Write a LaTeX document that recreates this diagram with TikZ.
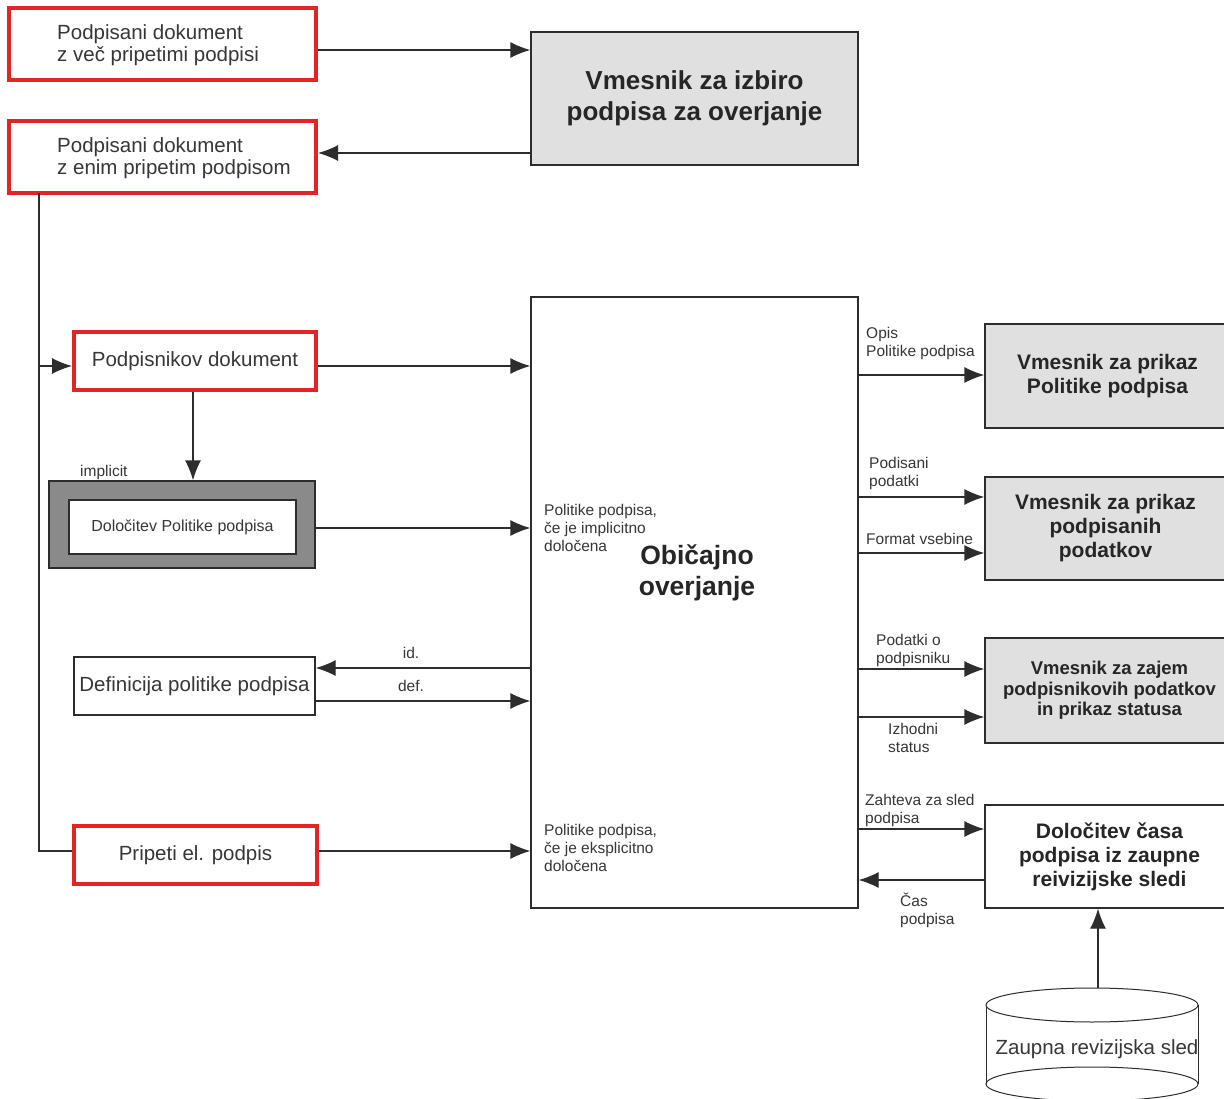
\documentclass[tikz,border=0pt]{standalone}
\usepackage{fontspec}
\setmainfont{Liberation Sans}
\usetikzlibrary{arrows.meta}
\definecolor{redb}{RGB}{226,36,36}
\definecolor{linec}{RGB}{45,45,45}
\definecolor{txt}{RGB}{55,55,55}
\definecolor{lightg}{RGB}{224,224,224}
\definecolor{darkg}{RGB}{138,138,138}
\tikzset{
  redbox/.style={draw=redb, line width=4pt, fill=white, inner sep=0pt, text=txt,
    font=\fontsize{20.5}{23}\selectfont, align=left},
  boxtxt/.style={text=txt, font=\fontsize{20.5}{22.5}\selectfont, align=left, inner sep=0pt, anchor=west},
  plainbox/.style={draw=linec, line width=1.3pt, fill=white, inner sep=0pt, text=txt,
    font=\fontsize{20.5}{23}\selectfont, align=center},
  graybox/.style={draw=linec, line width=1.3pt, fill=lightg, inner sep=0pt, text=black!85,
    font=\bfseries\fontsize{21}{24}\selectfont, align=center},
  bigtxt/.style={text=black!85, font=\bfseries\fontsize{26.5}{31}\selectfont, align=center, inner sep=0pt},
  lbl/.style={text=txt, font=\fontsize{15.5}{18}\selectfont, align=left, inner sep=0pt, anchor=west},
  conn/.style={draw=linec, line width=1.3pt},
  arr/.style={conn, -{Latex[length=20pt,width=16pt]}}
}
\begin{document}
\begin{tikzpicture}[x=1pt,y=-1pt]
\clip (0,0) rectangle (1224,1099);
\fill[white] (0,0) rectangle (1224,1099);

% left column
\node[redbox, minimum width=307, minimum height=72] (A) at (162.5,44) {};
\node[boxtxt] (At) at (57,45) {Podpisani dokument\\z več pripetimi podpisi};
\node[redbox, minimum width=307, minimum height=72] (B) at (162.5,157) {};
\node[boxtxt] (Bt) at (57,158) {Podpisani dokument\\z enim pripetim podpisom};
\node[graybox, font=\bfseries\fontsize{26}{31}\selectfont, minimum width=327, minimum height=133] (VI) at (694.5,98.5) {Vmesnik za izbiro\\podpisa za overjanje};

\node[redbox, minimum width=242, minimum height=58] (PD) at (195,361) {Podpisnikov dokument};
\node[draw=linec, line width=1.3pt, fill=darkg, minimum width=266, minimum height=87, inner sep=0pt] (DPo) at (182,524.5) {};
\node[plainbox, font=\fontsize{16}{18}\selectfont, minimum width=227, minimum height=54] (DP) at (182.5,527) {Določitev Politike podpisa};
\node[lbl] (impl) at (80,472) {implicit};

\node[plainbox, minimum width=241, minimum height=58] (DEF) at (194.5,686) {Definicija politike podpisa};
\node[redbox, minimum width=243, minimum height=58] (PE) at (195.5,855) {Pripeti el. podpis};

% main box
\node[draw=linec, line width=1.3pt, fill=white, minimum width=327, minimum height=611, inner sep=0pt] (M) at (694.5,602.5) {};
\node[bigtxt] (Mt) at (697,573) {Običajno\\overjanje};
\node[lbl] (pimp) at (544,528) {Politike podpisa,\\če je implicitno\\določena};
\node[lbl] (pexp) at (544,848) {Politike podpisa,\\če je eksplicitno\\določena};

% right column
\node[graybox, minimum width=241, minimum height=104] (R1) at (1105.5,376) {\hspace*{4pt}Vmesnik za prikaz\\\hspace*{4pt}Politike podpisa};
\node[graybox, minimum width=241, minimum height=103] (R2) at (1105.5,528.5) {Vmesnik za prikaz\\podpisanih\\podatkov};
\node[graybox, font=\bfseries\fontsize{18.5}{20.5}\selectfont, minimum width=241, minimum height=105] (R3) at (1105.5,690.5) {\hspace*{8pt}Vmesnik za zajem\\\hspace*{8pt}podpisnikovih podatkov\\\hspace*{8pt}in prikaz statusa};
\node[graybox, font=\bfseries\fontsize{21}{24}\selectfont, fill=white, minimum width=241, minimum height=103] (R4) at (1105.5,856.5) {\hspace*{8pt}Določitev časa\\\hspace*{8pt}podpisa iz zaupne\\\hspace*{8pt}reivizijske sledi};

% cylinder
\fill[white] (986,1005) rectangle (1198,1084);
\draw[conn, line width=1pt] (986,1005) -- (986,1084) (1198,1005) -- (1198,1084);
\draw[conn, line width=1pt, fill=white] (1092,1005) ellipse [x radius=106, y radius=17];
\draw[conn, line width=1pt] (1092,1084) ellipse [x radius=106, y radius=17];
\node[text=txt, font=\fontsize{20.5}{23}\selectfont, inner sep=0pt] (cyl) at (1097,1049) {Zaupna revizijska sled};
\coordinate (cyltop) at (1098,988);

% labels right
\node[lbl] at (866,343) {Opis\\Politike podpisa};
\node[lbl] at (869,473) {Podisani\\podatki};
\node[lbl] at (866,539) {Format vsebine};
\node[lbl] at (876,650) {Podatki o\\podpisniku};
\node[lbl] at (888,738) {Izhodni\\status};
\node[lbl] at (865,810) {Zahteva za sled\\podpisa};
\node[lbl] at (900,910) {Čas\\podpisa};
\node[lbl, anchor=center] at (411,653) {id.};
\node[lbl, anchor=center] at (411,686) {def.};

% connectors
\draw[arr] (A.east |- 0,50) -- (VI.west |- 0,50);
\draw[arr] (VI.west |- 0,153) -- (B.east |- 0,153);
\coordinate (trunk) at (39,193);
\draw[conn] (trunk) -- (39,851) -- (PE.west |- 0,851);
\draw[arr] (39,366) -- (PD.west |- 0,366);
\draw[arr] (PD.east |- 0,366) -- (M.west |- 0,366);
\draw[arr] (PD.south -| 193,0) -- (DPo.north -| 193,0);
\draw[arr] (DPo.east |- 0,528) -- (M.west |- 0,528);
\draw[arr] (M.west |- 0,668) -- (DEF.east |- 0,668);
\draw[arr] (DEF.east |- 0,701) -- (M.west |- 0,701);
\draw[arr] (PE.east |- 0,851) -- (M.west |- 0,851);

\draw[arr] (M.east |- 0,375) -- (R1.west |- 0,375);
\draw[arr] (M.east |- 0,497) -- (R2.west |- 0,497);
\draw[arr] (M.east |- 0,553) -- (R2.west |- 0,553);
\draw[arr] (M.east |- 0,669) -- (R3.west |- 0,669);
\draw[arr] (M.east |- 0,717) -- (R3.west |- 0,717);
\draw[arr] (M.east |- 0,829) -- (R4.west |- 0,829);
\draw[arr] (R4.west |- 0,880) -- (M.east |- 0,880);
\draw[arr] (cyltop) -- (R4.south -| cyltop);
\end{tikzpicture}
\end{document}
